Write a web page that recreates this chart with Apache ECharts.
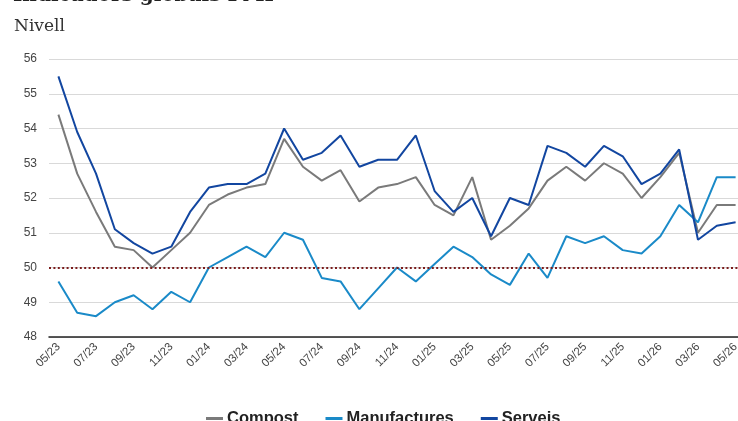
<!DOCTYPE html>
<html>
<head>
<meta charset="utf-8">
<script src="https://cdn.jsdelivr.net/npm/echarts@6/dist/echarts.min.js"></script>
<style>
html,body{margin:0;padding:0;background:#fff;overflow:hidden;width:738px;height:421px;}
#c{width:745px;height:421px;}
</style>
</head>
<body>
<div id="c"></div>
<script>
const categories = ['05/23','06/23','07/23','08/23','09/23','10/23','11/23','12/23',
  '01/24','02/24','03/24','04/24','05/24','06/24','07/24','08/24','09/24','10/24','11/24','12/24',
  '01/25','02/25','03/25','04/25','05/25','06/25','07/25','08/25','09/25','10/25','11/25','12/25',
  '01/26','02/26','03/26','04/26','05/26'];
const compost = [54.4,52.7,51.6,50.6,50.5,50.0,50.5,51.0,51.8,52.1,52.3,52.4,53.7,52.9,52.5,52.8,51.9,52.3,52.4,52.6,
  51.8,51.5,52.6,50.8,51.2,51.7,52.5,52.9,52.5,53.0,52.7,52.0,52.6,53.3,51.0,51.8,51.8];
const manufactures = [49.6,48.7,48.6,49.0,49.2,48.8,49.3,49.0,50.0,50.3,50.6,50.3,51.0,50.8,49.7,49.6,48.8,49.4,50.0,49.6,
  50.1,50.6,50.3,49.8,49.5,50.4,49.7,50.9,50.7,50.9,50.5,50.4,50.9,51.8,51.3,52.6,52.6];
const serveis = [55.5,53.9,52.7,51.1,50.7,50.4,50.6,51.6,52.3,52.4,52.4,52.7,54.0,53.1,53.3,53.8,52.9,53.1,53.1,53.8,
  52.2,51.6,52.0,50.9,52.0,51.8,53.5,53.3,52.9,53.5,53.2,52.4,52.7,53.4,50.8,51.2,51.3];
const yTicks = {min:48, max:56, interval:1};
const refLevel = 50;

const chart = echarts.init(document.getElementById('c'), null, {renderer:'canvas'});
const lineSeries = (name, data, color) => ({
  name, type:'line', data, symbol:'none', showSymbol:false,
  lineStyle:{color, width:2}, itemStyle:{color}, z:3
});
const s1 = lineSeries('Compost', compost, '#7a7a7a');
const s2 = lineSeries('Manufactures', manufactures, '#1a8ac8');
const s3 = lineSeries('Serveis', serveis, '#1246a0');
s1.markLine = {
  silent:true, symbol:'none', label:{show:false},
  lineStyle:{color:'#7b1d1d', width:2.2, type:[2,2.4]},
  data:[{yAxis:refLevel}]
};
chart.setOption({
  animation:false,
  backgroundColor:'#fff',
  title:[
    {text:'Indicadors globals PMI', left:8, top:-19,
     textStyle:{fontFamily:'DejaVu Serif', fontWeight:'bold', fontSize:20, color:'#222'}},
    {text:'Nivell', left:9, top:13,
     textStyle:{fontFamily:'DejaVu Serif', fontWeight:'normal', fontSize:17, color:'#333'}}
  ],
  grid:{left:49, right:0, top:59, bottom:84, containLabel:false},
  legend:{
    top:405, left:201, itemWidth:17, itemHeight:3, itemGap:27,
    icon:'rect',
    textStyle:{fontFamily:'Liberation Sans', fontWeight:'bold', fontSize:16.5, color:'#222', padding:[0,0,0,-1]},
    data:['Compost','Manufactures','Serveis']
  },
  xAxis:{
    type:'category', data:categories, boundaryGap:true,
    axisLine:{show:true, lineStyle:{color:'#222', width:1.5}},
    axisTick:{show:false},
    axisLabel:{rotate:45, interval:1, fontSize:11.5, color:'#444', fontFamily:'Liberation Sans', margin:8}
  },
  yAxis:{
    type:'value', min:yTicks.min, max:yTicks.max, interval:yTicks.interval,
    axisLine:{show:false}, axisTick:{show:false},
    axisLabel:{fontSize:12, color:'#444', fontFamily:'Liberation Sans', margin:12},
    splitLine:{lineStyle:{color:'#d9d9d9', width:1}}
  },
  series:[s1, s2, s3]
});
</script>
</body>
</html>
